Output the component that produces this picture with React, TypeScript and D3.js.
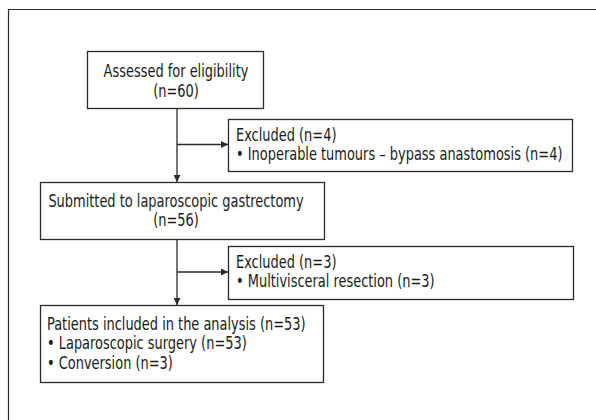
import React, { useEffect, useRef } from "react";
import * as d3 from "d3";

// Flowchart content
const boxIds = ["assessed", "excluded1", "submitted", "excluded2", "included"];
const boxLines: string[][] = [
  ["Assessed for eligibility", "(n=60)"],
  ["Excluded (n=4)", "• Inoperable tumours – bypass anastomosis (n=4)"],
  ["Submitted to laparoscopic gastrectomy", "(n=56)"],
  ["Excluded (n=3)", "• Multivisceral resection (n=3)"],
  ["Patients included in the analysis (n=53)", "• Laparoscopic surgery (n=53)", "• Conversion (n=3)"],
];
const boxAlign = ["middle", "start", "middle", "start", "start"];
const edges: [string, string][] = [
  ["assessed", "submitted"],
  ["submitted", "included"],
];
const sideEdges: [string, string][] = [
  ["assessed", "excluded1"],
  ["submitted", "excluded2"],
];

const W = 596;
const H = 420;
const FONT = "'DejaVu Sans Condensed', 'DejaVu Sans', sans-serif";
const STROKE = "#2b2b2b";
const FS = 17.5;
const SX = 0.823;

// layout (pixel geometry)
const layout: Record<string, { x0: number; x1: number; y0: number; y1: number; tx: number; ty: number }> = {
  assessed: { x0: 87, x1: 263, y0: 51, y1: 108, tx: 176, ty: 77.5 },
  excluded1: { x0: 228, x1: 572, y0: 119, y1: 171, tx: 236, ty: 141 },
  submitted: { x0: 40, x1: 324, y0: 182, y1: 239, tx: 176, ty: 207 },
  excluded2: { x0: 228, x1: 573, y0: 246, y1: 299, tx: 236, ty: 268 },
  included: { x0: 40, x1: 323, y0: 305, y1: 382, tx: 47, ty: 330 },
};
const SPINE_X = 177;
const LINE_H = 19.5;

export default function App() {
  const ref = useRef<SVGSVGElement>(null);
  useEffect(() => {
    const svg = d3.select(ref.current);
    svg.selectAll("*").remove();

    const defs = svg.append("defs");
    defs
      .append("marker")
      .attr("id", "arr")
      .attr("viewBox", "0 0 10 10")
      .attr("refX", 10)
      .attr("refY", 5)
      .attr("markerWidth", 8)
      .attr("markerHeight", 7)
      .attr("markerUnits", "userSpaceOnUse")
      .attr("orient", "auto")
      .append("path")
      .attr("d", "M0,0 L10,5 L0,10 Z")
      .attr("fill", STROKE);

    // outer frame (top and left edges)
    svg
      .append("path")
      .attr("d", `M${W},9.5 H8.5 V${H}`)
      .attr("fill", "none")
      .attr("stroke", STROKE)
      .attr("stroke-width", 1.2);

    // vertical edges
    edges.forEach(([a, b]) => {
      const la = layout[a];
      const lb = layout[b];
      const p = d3.path();
      p.moveTo(SPINE_X, la.y1);
      p.lineTo(SPINE_X, lb.y0);
      svg
        .append("path")
        .attr("d", p.toString())
        .attr("stroke", STROKE)
        .attr("stroke-width", 1.3)
        .attr("fill", "none")
        .attr("marker-end", "url(#arr)");
    });

    // side edges
    sideEdges.forEach(([, b]) => {
      const lb = layout[b];
      const y = (lb.y0 + lb.y1) / 2 - 0.5;
      const p = d3.path();
      p.moveTo(SPINE_X, y);
      p.lineTo(lb.x0, y);
      svg
        .append("path")
        .attr("d", p.toString())
        .attr("stroke", STROKE)
        .attr("stroke-width", 1.3)
        .attr("fill", "none")
        .attr("marker-end", "url(#arr)");
    });

    // boxes
    boxIds.forEach((id, i) => {
      const l = layout[id];
      const g = svg.append("g");
      g.append("rect")
        .attr("x", l.x0 + 0.5)
        .attr("y", l.y0 + 0.5)
        .attr("width", l.x1 - l.x0)
        .attr("height", l.y1 - l.y0)
        .attr("fill", "#fff")
        .attr("stroke", STROKE)
        .attr("stroke-width", 1.3);
      const t = g
        .append("text")
        .attr("font-family", FONT)
        .attr("font-size", FS)
        .attr("fill", "#1a1a1a")
        .attr("text-anchor", boxAlign[i])
        .attr("transform", `translate(${l.tx},0) scale(${SX},1)`);
      boxLines[i].forEach((line, j) => {
        t.append("tspan").attr("x", 0).attr("y", l.ty + j * LINE_H).text(line);
      });
    });
  }, []);

  return (
    <svg
      ref={ref}
      width={W}
      height={H}
      style={{ position: "absolute", left: 0, top: 0, background: "#fff" }}
    />
  );
}
